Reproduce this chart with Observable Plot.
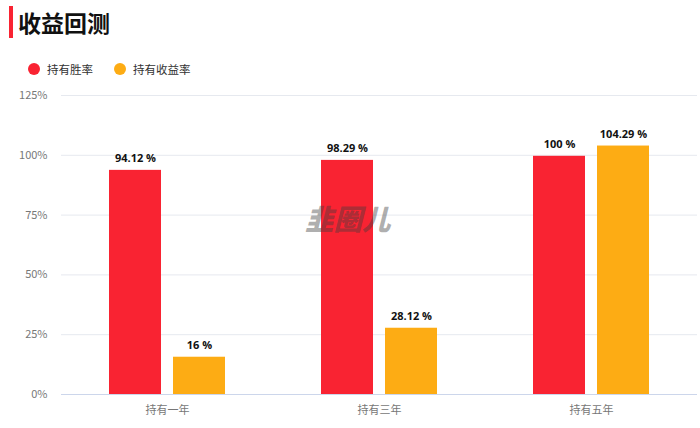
<!DOCTYPE html>
<html><head><meta charset="utf-8">
<script src="https://cdn.jsdelivr.net/npm/d3@7"></script>
<script src="https://cdn.jsdelivr.net/npm/@observablehq/plot@0.6"></script>
<style>
html,body{margin:0;padding:0;background:#fff;width:700px;height:428px;overflow:hidden;font-family:"Noto Sans CJK SC","Noto Sans",sans-serif}
#wrap{position:relative;width:700px;height:428px}
#title{position:absolute;left:9px;top:6px;height:32px;border-left:4px solid #f92332;padding-left:5px;font-size:23px;font-weight:700;line-height:33px;color:#111}
#legend{position:absolute;left:28px;top:60px;height:18px;display:flex;align-items:center;font-size:11.5px;color:#333}
.dot{width:12px;height:12px;border-radius:50%;margin-right:7px}
.item{display:flex;align-items:center;margin-right:21px}
#chart{position:absolute;left:0;top:80px}
#mark{position:absolute;left:305px;top:198px;font-size:28.5px;font-weight:900;font-style:italic;color:rgba(60,60,60,.42);letter-spacing:0;line-height:40px}
</style></head><body>
<div id="wrap">
<div id="title">收益回测</div>
<div id="legend"></div>
<div id="chart"></div>
<div id="mark">韭圈儿</div>
</div>
<script>
const categories = ["持有一年","持有三年","持有五年"];
const seriesNames = ["持有胜率","持有收益率"];
const winRate = [94.12, 98.29, 100];
const returnRate = [16, 28.12, 104.29];
const colors = ["#f92332","#fdac14"];
const yTicks = [0,25,50,75,100,125];

const rows = categories.flatMap((c,i)=>[
  {c, s:seriesNames[0], v:winRate[i]},
  {c, s:seriesNames[1], v:returnRate[i]}
]);

document.getElementById("legend").innerHTML = seriesNames.map((s,i)=>
  `<div class="item"><div class="dot" style="background:${colors[i]}"></div>${s}</div>`).join("");

const plot = Plot.plot({
  width:700, height:348,
  marginTop:15, marginBottom:34, marginLeft:60, marginRight:2,
  style:{fontFamily:'"Noto Sans CJK SC","Noto Sans",sans-serif',fontSize:"11px",background:"transparent"},
  fx:{domain:categories,label:null,padding:0,axis:null},
  x:{domain:seriesNames,paddingInner:0.19,paddingOuter:0.75,axis:null,label:null},
  y:{domain:[0,125],ticks:yTicks,label:null,axis:null},
  color:{domain:seriesNames,range:colors},
  marks:[
    Plot.ruleY(yTicks.filter(d=>d>0),{stroke:"#e6e9ef",strokeWidth:1}),
    Plot.axisY({ticks:yTicks,tickFormat:d=>d+"%",tickSize:0,tickPadding:14,label:null,fill:"#777",fontSize:11}),
    Plot.axisFx({anchor:"bottom",label:null,tickSize:0,tickPadding:12,fill:"#777",fontSize:11}),
    Plot.barY(rows,{fx:"c",x:"s",y:"v",fill:"s",insetTop:1}),
    Plot.ruleY([0],{stroke:"#ccd6eb",strokeWidth:1}),
    Plot.text(rows,{fx:"c",x:"s",y:"v",text:d=>d.v+" %",dy:-11,fill:"#111",fontWeight:700,fontSize:11,fontFamily:'"Open Sans",sans-serif'})
  ]
});
document.getElementById("chart").appendChild(plot);
</script>
</body></html>
